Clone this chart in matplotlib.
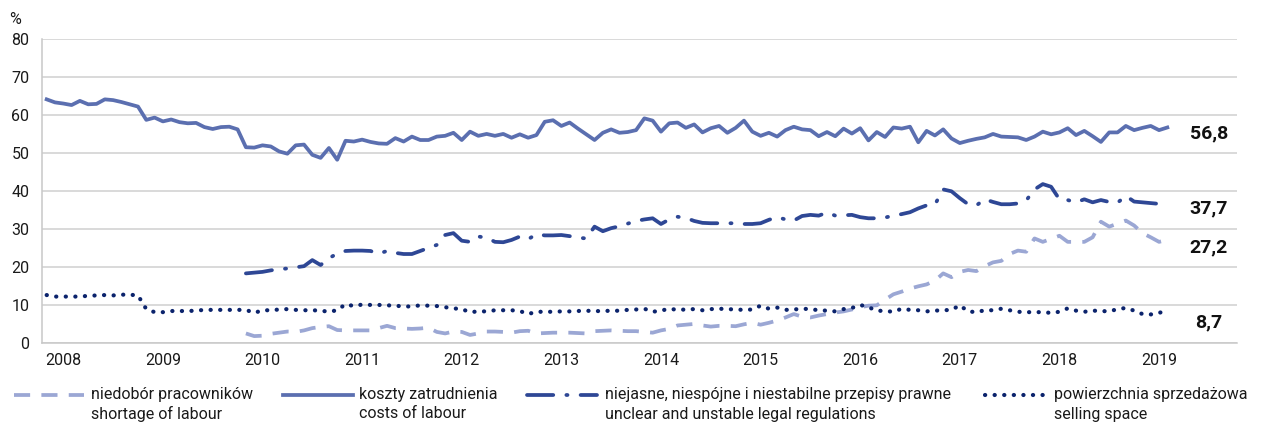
import numpy as np
import matplotlib
matplotlib.use("Agg")
import matplotlib.pyplot as plt
from matplotlib.lines import Line2D

plt.rcParams['font.family'] = ['Roboto', 'DejaVu Sans']

# monthly data, first point = Nov 2007
years = [str(y) for y in range(2008, 2020)]

costs = [64.2, 63.4, 63.1, 62.7, 63.8, 62.9, 63.0, 64.2, 64.0, 63.5, 62.9, 62.3,
         58.8, 59.4, 58.4, 58.9, 58.2, 57.9, 58.0, 56.9, 56.4, 56.9, 57.0, 56.3,
         51.6, 51.5, 52.1, 51.8, 50.5, 49.9, 52.1, 52.3, 49.6, 48.8, 51.4, 48.3,
         53.3, 53.1, 53.6, 53.0, 52.6, 52.5, 54.0, 53.1, 54.4, 53.5, 53.5, 54.4,
         54.6, 55.4, 53.5, 55.7, 54.6, 55.1, 54.6, 55.1, 54.1, 55.0, 54.1, 54.8,
         58.3, 58.7, 57.2, 58.1, 56.5, 55.0, 53.5, 55.4, 56.3, 55.4, 55.6, 56.1,
         59.2, 58.6, 55.7, 57.9, 58.1, 56.7, 57.6, 55.5, 56.6, 57.2, 55.4, 56.7,
         58.6, 55.7, 54.6, 55.4, 54.4, 56.1, 57.0, 56.3, 56.1, 54.5, 55.6, 54.5,
         56.5, 55.2, 56.6, 53.4, 55.6, 54.3, 56.8, 56.5, 57.0, 52.9, 55.9, 54.7,
         56.3, 53.9, 52.7, 53.3, 53.8, 54.2, 55.1, 54.4, 54.3, 54.2, 53.5, 54.4,
         55.7, 55.0, 55.5, 56.6, 54.8, 55.9, 54.5, 53.0, 55.5, 55.5, 57.2, 56.1,
         56.7, 57.2, 56.1, 56.8]

selling = [12.7, 12.3, 12.3, 12.3, 12.3, 12.5, 12.6, 12.7, 12.6, 12.8, 12.8, 12.6,
           9.0, 8.2, 8.2, 8.5, 8.5, 8.5, 8.6, 8.8, 8.8, 8.8, 8.8, 8.8,
           8.8, 8.0, 8.7, 8.7, 8.9, 9.0, 8.8, 8.7, 8.7, 8.6, 8.3, 8.7,
           10.3, 9.8, 10.2, 10.1, 10.1, 10.0, 9.9, 9.7, 9.7, 10.0, 9.9, 9.8,
           9.5, 9.2, 9.0, 8.2, 8.4, 8.4, 8.7, 8.7, 8.7, 8.5, 7.7, 8.3,
           8.3, 8.3, 8.4, 8.4, 8.5, 8.6, 8.4, 8.6, 8.5, 8.6, 8.8, 8.9,
           9.1, 8.3, 8.6, 9.1, 8.8, 8.9, 9.0, 8.7, 9.0, 9.1, 9.0, 8.9,
           8.8, 8.9, 9.9, 9.1, 9.4, 8.8, 8.9, 9.1, 9.0, 8.7, 8.6, 8.4,
           9.0, 9.3, 10.1, 9.5, 8.6, 8.5, 8.3, 9.1, 8.8, 8.7, 8.4, 8.6,
           8.7, 8.8, 10.0, 8.4, 8.2, 8.7, 8.7, 9.1, 8.7, 8.3, 8.2, 8.2,
           8.2, 8.0, 8.3, 9.2, 8.6, 8.3, 8.6, 8.5, 8.4, 9.0, 9.3, 8.6,
           7.7, 7.6, 8.0, 8.7]

# these two start in Nov 2009
shortage = [2.6, 1.9, 2.0, 2.5, 2.8, 3.1, 3.0, 3.4, 4.0, 4.3, 4.5, 3.5,
            3.4, 3.4, 3.4, 3.4, 4.0, 4.6, 4.0, 3.9, 3.8, 3.9, 4.1, 3.0,
            2.6, 3.1, 3.0, 2.2, 2.6, 3.1, 3.1, 3.0, 2.8, 3.2, 3.3, 2.6,
            2.7, 2.8, 2.8, 2.8, 2.7, 2.6, 3.2, 3.3, 3.4, 3.3, 3.2, 3.2,
            3.0, 2.8, 3.4, 3.8, 4.7, 4.9, 5.1, 4.7, 4.4, 4.6, 4.6, 4.5,
            5.0, 5.4, 4.9, 5.4, 6.0, 6.8, 7.7, 7.0, 6.8, 7.3, 7.7, 8.1,
            8.4, 8.9, 9.5, 9.9, 10.0, 11.5, 12.9, 13.6, 14.4, 15.0, 15.5, 16.5,
            18.4, 17.4, 18.8, 19.3, 19.0, 20.3, 21.3, 21.7, 23.5, 24.4, 24.1, 27.6,
            26.7, 27.5, 28.3, 26.7, 26.7, 26.7, 27.9, 32.0, 30.7, 31.5, 32.3, 31.0,
            29.0, 27.9, 26.7, 27.2]

legal = [18.4, 18.6, 18.8, 19.2, 19.5, 19.7, 20.0, 20.3, 21.9, 20.6, 22.4, 23.6,
         24.3, 24.4, 24.4, 24.3, 23.6, 24.3, 23.8, 23.5, 23.5, 24.3, 25.1, 25.9,
         28.5, 29.0, 27.0, 26.7, 28.1, 27.8, 26.7, 26.6, 27.2, 28.1, 27.4, 28.7,
         28.4, 28.4, 28.5, 28.2, 27.8, 27.6, 30.7, 29.5, 30.3, 30.8, 31.5, 32.2,
         32.6, 32.9, 31.4, 32.6, 33.3, 33.0, 32.2, 31.7, 31.6, 31.6, 31.6, 31.6,
         31.4, 31.4, 31.6, 32.5, 33.2, 32.6, 32.3, 33.5, 33.8, 33.6, 34.4, 33.6,
         33.7, 33.8, 33.2, 32.9, 32.9, 33.1, 33.6, 34.0, 34.5, 35.5, 36.3, 36.5,
         40.5, 40.0, 38.2, 36.6, 36.3, 37.9, 37.2, 36.6, 36.6, 36.8, 37.6, 40.5,
         41.9, 41.2, 37.9, 37.7, 37.1, 37.9, 37.1, 37.7, 37.2, 37.0, 38.8, 37.3,
         37.1, 36.9, 36.7, 37.7]

n = len(costs)
x = np.arange(n)
x_late = np.arange(n - len(shortage), n)

c_short = '#9ba7d4'
c_cost = '#5b6fb0'
c_legal = '#2e4795'
c_sell = '#0b236c'

fig = plt.figure(figsize=(12.71, 4.25), dpi=100)
ax = fig.add_axes([0.033, 0.1922, 0.9403, 0.7153])

lw = 2.7
short_style = dict(color=c_short, lw=lw, dashes=(4.3, 3.0))
cost_style = dict(color=c_cost, lw=lw)
legal_style = dict(color=c_legal, lw=lw, dashes=(7.0, 3.5, 0.3, 3.5), dash_capstyle='round')
sell_style = dict(color=c_sell, lw=3.0, dashes=(0.05, 2.25), dash_capstyle='round')

ax.plot(x_late, shortage, **short_style)
ax.plot(x, costs, **cost_style)
ax.plot(x_late, legal, **legal_style)
ax.plot(x, selling, **sell_style)

ax.set_ylim(0, 80)
ax.set_xlim(-0.57, 143.4)
ax.set_yticks(range(0, 81, 10))
ax.set_xticks(np.arange(2, n, 12))
ax.set_xticklabels(years)
ax.yaxis.grid(True, color='#d0d0d0', lw=1.1)
ax.set_axisbelow(True)
for s in ['top', 'right']:
    ax.spines[s].set_visible(False)
for s in ['left', 'bottom']:
    ax.spines[s].set_color('#c8c8c8')
    ax.spines[s].set_linewidth(1.1)
ax.tick_params(axis='both', length=0, labelsize=11.5, colors='#1a1a1a')
ax.tick_params(axis='y', pad=9)
ax.tick_params(axis='x', pad=7)

# end values
lbl_x = 140.0
for vals, ypos in [(costs, 55.3), (legal, 35.6), (shortage, 25.1), (selling, 5.6)]:
    ax.text(lbl_x, ypos, f"{vals[-1]:.1f}".replace('.', ','), ha='center', va='center',
            fontsize=14, fontweight='bold', color='#111111')

fig.text(0.007, 0.953, '%', fontsize=11.5, color='#1a1a1a', va='center')

# legend drawn by hand so the key sits on the first text line
W, H = 1271.0, 425.0
entries = [
    (14, 84, 91, short_style, 'niedobór pracowników', 'shortage of labour'),
    (283, 353, 359, cost_style, 'koszty zatrudnienia', 'costs of labour'),
    (527, 597, 605, legal_style,
     'niejasne, niespójne i niestabilne przepisy prawne', 'unclear and unstable legal regulations'),
    (985, 1047, 1054, sell_style, 'powierzchnia sprzedażowa', 'selling space'),
]
y1 = 1 - 395 / H
y2 = 1 - 414 / H
for x0, x1, xt, style, t1, t2 in entries:
    fig.add_artist(Line2D([x0 / W, x1 / W], [y1, y1], transform=fig.transFigure, **style))
    fig.text(xt / W, y1, t1, fontsize=11.5, va='center', color='#1a1a1a')
    fig.text(xt / W, y2, t2, fontsize=11.5, va='center', color='#1a1a1a')

fig.savefig('out.png', dpi=100)
